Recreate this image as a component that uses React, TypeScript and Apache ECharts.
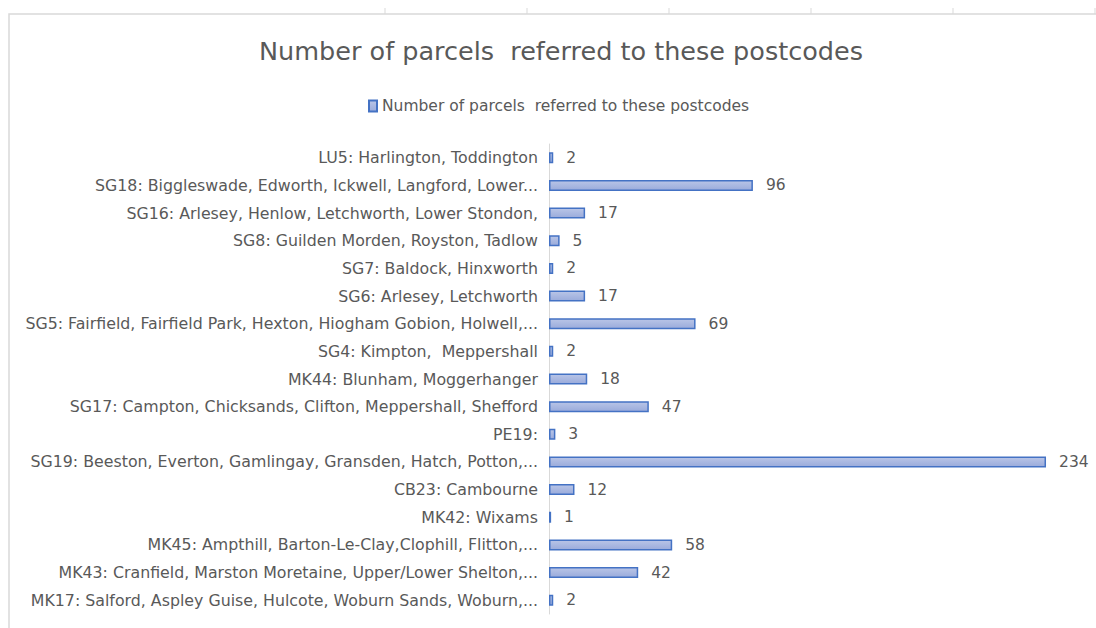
import React, { useEffect, useRef } from "react";
import * as echarts from "echarts";

const categories = [
  "LU5: Harlington, Toddington",
  "SG18: Biggleswade, Edworth, Ickwell, Langford, Lower...",
  "SG16: Arlesey, Henlow, Letchworth, Lower Stondon,",
  "SG8: Guilden Morden, Royston, Tadlow",
  "SG7: Baldock, Hinxworth",
  "SG6: Arlesey, Letchworth",
  "SG5: Fairfield, Fairfield Park, Hexton, Hiogham Gobion, Holwell,...",
  "SG4: Kimpton,  Meppershall",
  "MK44: Blunham, Moggerhanger",
  "SG17: Campton, Chicksands, Clifton, Meppershall, Shefford",
  "PE19:",
  "SG19: Beeston, Everton, Gamlingay, Gransden, Hatch, Potton,...",
  "CB23: Cambourne",
  "MK42: Wixams",
  "MK45: Ampthill, Barton-Le-Clay,Clophill, Flitton,...",
  "MK43: Cranfield, Marston Moretaine, Upper/Lower Shelton,...",
  "MK17: Salford, Aspley Guise, Hulcote, Woburn Sands, Woburn,...",
];
const values = [2, 96, 17, 5, 2, 17, 69, 2, 18, 47, 3, 234, 12, 1, 58, 42, 2];
const seriesName = "Number of parcels  referred to these postcodes";
const titleText = "Number of parcels  referred to these postcodes";

const FONT = "'DejaVu Sans', sans-serif";
const GREY = "#595959";

export default function App() {
  const ref = useRef<HTMLDivElement>(null);
  useEffect(() => {
    if (!ref.current) return;
    const chart = echarts.init(ref.current, null, { renderer: "svg" });
    const barFill = new echarts.graphic.LinearGradient(0, 0, 0, 1, [
      { offset: 0, color: "#b9c5e7" },
      { offset: 1, color: "#9aabdb" },
    ]);
    const colTicks = [385, 527, 669, 811, 953, 1095];
    chart.setOption({
      animation: false,
      backgroundColor: "#ffffff",
      title: {
        text: titleText,
        left: 254,
        top: 33,
        textStyle: { fontFamily: FONT, fontSize: 25.5, fontWeight: "normal", color: GREY },
      },
      legend: {
        top: 93,
        left: 363,
        itemWidth: 8,
        itemHeight: 11,
        itemGap: 4,
        textStyle: { fontFamily: FONT, fontSize: 15.5, color: GREY },
        data: [{ name: seriesName, icon: "rect" }],
      },
      grid: { left: 549, right: 16, top: 144, bottom: 14, containLabel: false },
      xAxis: {
        type: "value",
        min: 0,
        max: 250,
        show: false,
        splitLine: { show: false },
      },
      yAxis: {
        type: "category",
        inverse: true,
        data: categories,
        axisLine: { show: true, lineStyle: { color: "#d9d9d9", width: 1 } },
        axisTick: { show: false },
        axisLabel: { fontFamily: FONT, fontSize: 15.8, color: GREY, margin: 11 },
      },
      series: [
        {
          name: seriesName,
          type: "bar",
          data: values,
          barWidth: 11,
          itemStyle: { color: barFill, borderColor: "#4472c4", borderWidth: 1.5 },
          label: {
            show: true,
            position: "right",
            distance: 13,
            fontFamily: FONT,
            fontSize: 15.5,
            color: GREY,
          },
        },
      ],
      graphic: [
        {
          type: "polyline",
          shape: { points: [[9, 628], [9, 14], [1096, 14]] },
          style: { stroke: "#d9d9d9", lineWidth: 1.5, fill: "none" },
          silent: true,
        },
        ...colTicks.map((x) => ({
          type: "line",
          shape: { x1: x, y1: 8, x2: x, y2: 14 },
          style: { stroke: "#d9d9d9", lineWidth: 1 },
          silent: true,
        })),
      ],
    });
    return () => chart.dispose();
  }, []);
  return (
    <div
      ref={ref}
      style={{ position: "fixed", left: 0, top: 0, width: 1096, height: 628 }}
    />
  );
}
